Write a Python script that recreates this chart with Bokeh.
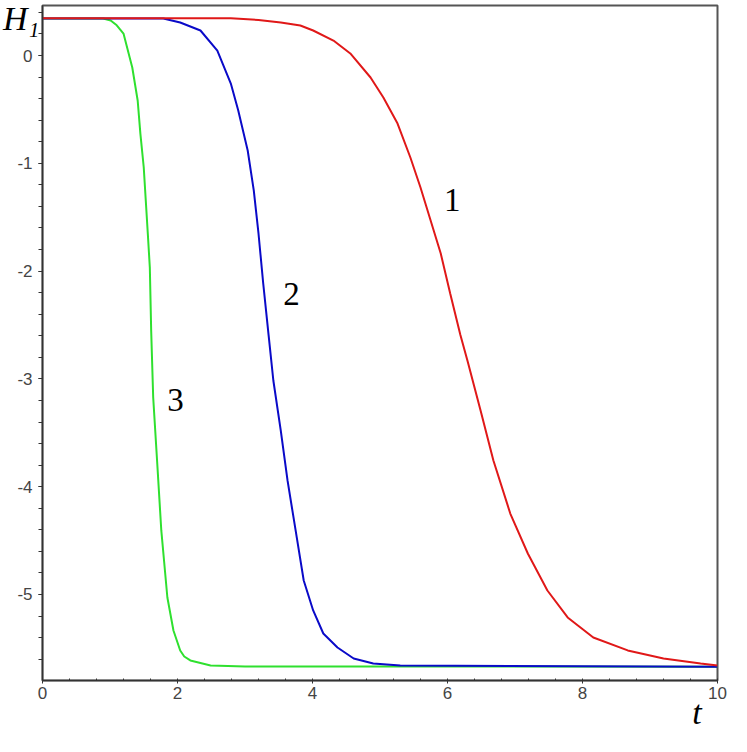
from bokeh.plotting import figure
from bokeh.models import Range1d, SingleIntervalTicker, ColumnDataSource, PrintfTickFormatter
from bokeh.core.properties import value
from bokeh.embed import file_html
from bokeh.resources import INLINE

# curve 1 (red)
t1 = [0, 2.79, 3.2, 3.53, 3.82, 4.01, 4.31, 4.56, 4.86, 5.05, 5.26, 5.45, 5.60, 5.75, 5.90,
      6.04, 6.19, 6.30, 6.49, 6.68, 6.93, 7.19, 7.48, 7.78, 8.16, 8.67, 9.20, 9.75, 10]
h1 = [0.345, 0.345, 0.33, 0.306, 0.278, 0.232, 0.139, 0.019, -0.204, -0.390, -0.631, -0.946,
      -1.224, -1.531, -1.837, -2.208, -2.59, -2.84, -3.293, -3.757, -4.249, -4.620,
      -4.963, -5.213, -5.399, -5.519, -5.594, -5.640, -5.659]
# curve 2 (blue)
t2 = [0, 1.79, 2.04, 2.34, 2.59, 2.79, 2.90, 3.04, 3.13, 3.20, 3.27, 3.35, 3.42, 3.53,
      3.63, 3.75, 3.87, 4.01, 4.16, 4.37, 4.61, 4.90, 5.30, 10]
h2 = [0.343, 0.343, 0.306, 0.232, 0.046, -0.260, -0.510, -0.881, -1.252, -1.651, -2.115,
      -2.597, -3.015, -3.479, -3.942, -4.406, -4.870, -5.148, -5.362, -5.492, -5.594,
      -5.640, -5.659, -5.67]
# curve 3 (green)
t3 = [0, 0.90, 1.01, 1.10, 1.20, 1.33, 1.41, 1.45, 1.50, 1.53, 1.56, 1.59, 1.61, 1.64, 1.70,
      1.76, 1.85, 1.94, 2.04, 2.10, 2.19, 2.49, 3.0, 10]
h3 = [0.343, 0.343, 0.325, 0.28, 0.204, -0.111, -0.417, -0.724, -1.039, -1.345, -1.651, -1.967,
      -2.551, -3.173, -3.785, -4.406, -5.028, -5.334, -5.520, -5.575, -5.612, -5.659, -5.668, -5.67]

# curve labels
lab_text = ["1", "2", "3"]
lab_t = [6.07, 3.69, 1.97]
lab_h = [-1.345, -2.208, -3.200]

x_title = "t\u2002\u2002\u2009"
y_title = "\nH\u2081"

p = figure(width=745, height=735, output_backend="svg", toolbar_location=None,
           x_range=Range1d(0, 10), y_range=Range1d(-5.798, 0.464),
           min_border_left=42, min_border_right=28, min_border_top=5,
           min_border_bottom=55, background_fill_color="white",
           border_fill_color="white")
p.xgrid.visible = False
p.ygrid.visible = False
p.outline_line_color = "#555555"
p.outline_line_width = 2

p.xaxis.ticker = SingleIntervalTicker(interval=2, num_minor_ticks=5)
p.yaxis.ticker = SingleIntervalTicker(interval=1, num_minor_ticks=5)
p.xaxis.formatter = PrintfTickFormatter(format="%d")
p.yaxis.formatter = PrintfTickFormatter(format="%d")
for ax in (p.xaxis, p.yaxis):
    ax.axis_line_color = "#333333"
    ax.axis_line_width = 1.5
    ax.major_tick_line_color = "#333333"
    ax.minor_tick_line_color = "#333333"
    ax.major_label_text_font = "Liberation Sans"
    ax.major_label_text_font_size = "17px"
    ax.major_label_text_color = "#444444"
    ax.axis_label_text_font = "Liberation Serif"
    ax.axis_label_text_font_style = "italic"
    ax.axis_label_text_font_size = "34px"
    ax.axis_label_text_color = "black"
p.xaxis.major_tick_out = 3
p.xaxis.major_tick_in = 0
p.xaxis.minor_tick_out = 0
p.xaxis.minor_tick_in = 2
p.xaxis.major_label_standoff = 3
p.yaxis.major_tick_out = 4
p.yaxis.major_tick_in = 0
p.yaxis.minor_tick_out = 4
p.yaxis.minor_tick_in = 0
p.yaxis.major_label_standoff = 6

p.xaxis.axis_label = x_title
p.xaxis.axis_label_align = "end"
p.xaxis.axis_label_standoff = -8
p.yaxis.axis_label = y_title
p.yaxis.axis_label_orientation = "horizontal"
p.yaxis.axis_label_align = "end"
p.yaxis.axis_label_standoff = -25
p.yaxis.axis_label_text_line_height = 0.7

p.line(t3, h3, line_color="#2fe02f", line_width=2)
p.line(t2, h2, line_color="#0a0ac8", line_width=2)
p.line(t1, h1, line_color="#e01818", line_width=2)

src = ColumnDataSource(dict(x=lab_t, y=lab_h, text=lab_text))
p.text(x="x", y="y", text="text", source=src, text_font=value("Liberation Serif"),
       text_font_size="33px", text_align="center", text_baseline="alphabetic",
       text_color="black")

open("out.html", "w").write(file_html(p, INLINE))
